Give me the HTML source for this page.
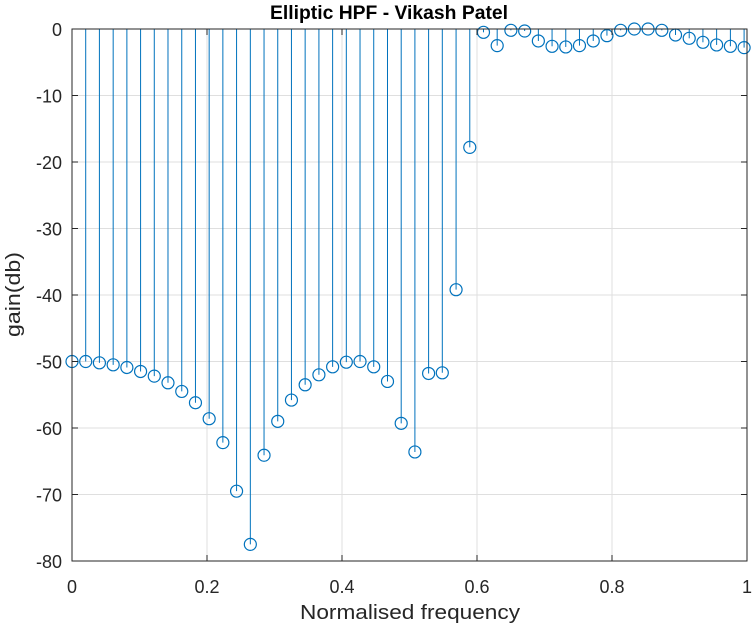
<!DOCTYPE html>
<html><head><meta charset="utf-8"><style>
html,body{margin:0;padding:0;background:#fff;width:753px;height:630px;overflow:hidden}
svg{display:block;font-family:"Liberation Sans",Arial,sans-serif}
</style></head><body>
<svg id="chart" width="753" height="630" viewBox="0 0 753 630"></svg>
<script>
const freqs = [0,0.0203,0.0406,0.061,0.0813,0.1016,0.1219,0.1422,0.1626,0.1829,0.2032,0.2235,0.2438,0.2642,0.2845,0.3048,0.3251,0.3454,0.3658,0.3861,0.4064,0.4267,0.447,0.4674,0.4877,0.508,0.5283,0.5486,0.569,0.5893,0.6096,0.6299,0.6502,0.6706,0.6909,0.7112,0.7315,0.7518,0.7722,0.7925,0.8128,0.8331,0.8534,0.8738,0.8941,0.9144,0.9347,0.955,0.9754,0.9957];
const gains = [-50,-50,-50.2,-50.5,-50.9,-51.5,-52.2,-53.2,-54.5,-56.2,-58.6,-62.2,-69.5,-77.5,-64.1,-59,-55.8,-53.5,-52,-50.8,-50.1,-50,-50.8,-53,-59.3,-63.6,-51.8,-51.7,-39.2,-17.8,-0.5,-2.5,-0.2,-0.3,-1.8,-2.6,-2.7,-2.5,-1.8,-1.0,-0.2,0,0,-0.2,-0.9,-1.4,-2.0,-2.4,-2.6,-2.8];
const xTicks = [0,0.2,0.4,0.6,0.8,1];
const xTickLabels = ["0","0.2","0.4","0.6","0.8","1"];
const yTicks = [0,-10,-20,-30,-40,-50,-60,-70,-80];
const yTickLabels = ["0","-10","-20","-30","-40","-50","-60","-70","-80"];

const L=72,R=747,T=29,B=561;
const xs=v=>L+(v-0)/(1-0)*(R-L);
const ys=v=>T+(0-v)/(0-(-80))*(B-T);
const NS="http://www.w3.org/2000/svg";
const svg=document.getElementById('chart');
function mk(tag,attrs,parent){const e=document.createElementNS(NS,tag);for(const k in attrs)e.setAttribute(k,attrs[k]);(parent||svg).appendChild(e);return e;}

mk('rect',{x:L,y:T,width:R-L,height:B-T,fill:'#fff'});
const grid=mk('g',{});


xTicks.forEach(v=>{const l=mk('line',{x1:xs(v),x2:xs(v),y1:T,y2:B,stroke:'#dfdfdf','stroke-width':1},grid);

});
yTicks.forEach(v=>{const l=mk('line',{x1:L,x2:R,y1:ys(v),y2:ys(v),stroke:'#dfdfdf','stroke-width':1},grid);

});

const series=mk('g',{});


freqs.forEach((f,i)=>{
  const x=xs(f),y=ys(gains[i]);
  const st=mk('line',{x1:x,x2:x,y1:ys(0),y2:y,stroke:'#0072BD','stroke-width':1},series);
  
  
  const c=mk('circle',{cx:x,cy:y,r:6,fill:'none',stroke:'#0072BD','stroke-width':1.2},series);
  
  
});

const ax=mk('g',{});


mk('rect',{x:L,y:T,width:R-L,height:B-T,fill:'none',stroke:'#262626','stroke-width':1},ax);
xTicks.forEach((v,i)=>{
  mk('line',{x1:xs(v),x2:xs(v),y1:B,y2:B-6,stroke:'#262626'},ax);
  mk('line',{x1:xs(v),x2:xs(v),y1:T,y2:T+6,stroke:'#262626'},ax);
  const t=mk('text',{x:xs(v),y:B+32,'text-anchor':'middle','font-size':18,fill:'#262626'},ax);
  t.textContent=xTickLabels[i];
  
  
});
yTicks.forEach((v,i)=>{
  mk('line',{x1:L,x2:L+6,y1:ys(v),y2:ys(v),stroke:'#262626'},ax);
  mk('line',{x1:R,x2:R-6,y1:ys(v),y2:ys(v),stroke:'#262626'},ax);
  const t=mk('text',{x:L-10,y:ys(v)+7,'text-anchor':'end','font-size':18,fill:'#262626'},ax);
  t.textContent=yTickLabels[i];
  
  
});
const title=mk('text',{x:389,y:19,'text-anchor':'middle','font-size':19,'font-weight':'bold',fill:'#000',textLength:238,lengthAdjust:'spacingAndGlyphs'});
title.textContent='Elliptic HPF - Vikash Patel';


const xl=mk('text',{x:410,y:619,'text-anchor':'middle','font-size':20,fill:'#262626',textLength:220,lengthAdjust:'spacingAndGlyphs'});
xl.textContent='Normalised frequency';


const yl=mk('text',{x:0,y:0,'text-anchor':'middle','font-size':20,fill:'#262626',textLength:85,lengthAdjust:'spacingAndGlyphs',transform:'translate(20,294.5) rotate(-90)'});
yl.textContent='gain(db)';


</script>
</body></html>
